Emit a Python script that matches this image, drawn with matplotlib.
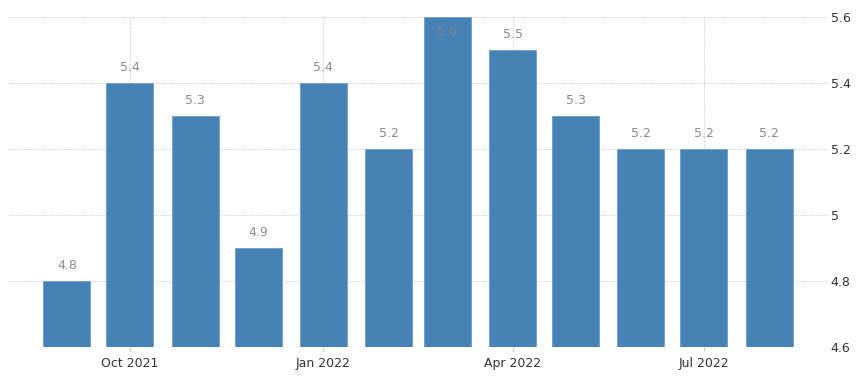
import matplotlib
matplotlib.use("Agg")
import matplotlib.pyplot as plt
import matplotlib.dates as mdates
import datetime as dt

months = ["2021-09", "2021-10", "2021-11", "2021-12", "2022-01", "2022-02",
          "2022-03", "2022-04", "2022-05", "2022-06", "2022-07", "2022-08"]
values = [4.8, 5.4, 5.3, 4.9, 5.4, 5.2, 5.6, 5.5, 5.3, 5.2, 5.2, 5.2]
xtick_months = ["2021-10", "2022-01", "2022-04", "2022-07"]
xtick_labels = ["Oct 2021", "Jan 2022", "Apr 2022", "Jul 2022"]
yticks = [4.6, 4.8, 5.0, 5.2, 5.4, 5.6]
ytick_labels = ["4.6", "4.8", "5", "5.2", "5.4", "5.6"]

def to_date(s):
    y, m = s.split("-")
    return dt.date(int(y), int(m), 1)

dates = [to_date(m) for m in months]
xnum = mdates.date2num(dates)

W, H = 862, 376
fig = plt.figure(figsize=(W / 100, H / 100), dpi=100)
ax = fig.add_axes([8 / W, (H - 347) / H, (828 - 8) / W, (347 - 17) / H])

bars = ax.bar(xnum, [v - 4.6 for v in values], bottom=4.6, width=22.4,
              color="#4682b4", edgecolor="#6e9fcb", linewidth=0.6, zorder=3)

ax.set_xlim(mdates.date2num(dt.date(2021, 8, 4)), mdates.date2num(dt.date(2022, 8, 29)))
ax.set_ylim(4.6, 5.6)

for x, v in zip(xnum, values):
    if v >= 5.6 - 1e-9:
        ax.annotate(f"{v:.1f}", (x, v), xytext=(0, -10.5), textcoords="offset points",
                    ha="center", va="center", fontsize=9, color="#7a8595",
                    family="DejaVu Sans", zorder=4)
    else:
        ax.annotate(f"{v:.1f}", (x, v), xytext=(0, 10.8), textcoords="offset points",
                    ha="center", va="center", fontsize=9, color="#8c8c8c",
                    family="DejaVu Sans", zorder=4)

ax.set_xticks(mdates.date2num([to_date(m) for m in xtick_months]))
ax.set_xticklabels(xtick_labels)
ax.set_yticks(yticks)
ax.set_yticklabels(ytick_labels)
ax.yaxis.tick_right()

for s in ax.spines.values():
    s.set_visible(False)

ax.grid(True, which="major", axis="both", linestyle=(0, (1, 1)), color="#d2d2d2",
        linewidth=0.8, zorder=0)
ax.tick_params(axis="x", length=3, color="#cccccc", labelsize=9, labelcolor="#333333", pad=4)
ax.tick_params(axis="y", length=0, labelsize=9, labelcolor="#333333", pad=2)
for lbl in ax.get_xticklabels() + ax.get_yticklabels():
    lbl.set_family("DejaVu Sans")

fig.savefig("out.png", dpi=100)
